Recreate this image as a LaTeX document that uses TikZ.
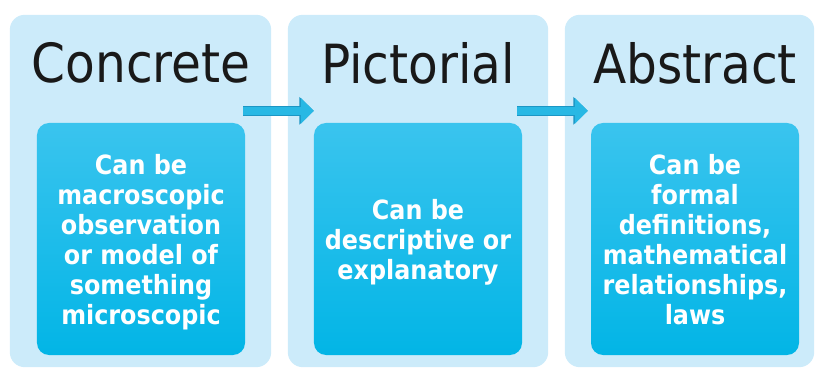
\documentclass[tikz,border=0pt]{standalone}
\usepackage{fontspec}
\setmainfont{DejaVu Sans Condensed}
\usetikzlibrary{%
  matrix,%
  calc,%
  arrows.meta,%
  backgrounds%
}
\definecolor{paneblue}{RGB}{204,235,250}
\definecolor{cardtop}{RGB}{58,196,238}
\definecolor{cardbot}{RGB}{2,181,230}
\definecolor{flowblue}{RGB}{40,184,228}
\definecolor{flowedge}{RGB}{28,150,196}
\newcommand{\cardlines}[1]{\begin{tabular}{@{}c@{}}\noalign{\vskip 9pt}#1\end{tabular}}

\begin{document}
\begin{tikzpicture}[x=1pt,y=1pt,
  title/.style={inner sep=0pt,text=black!90,font=\fontsize{54}{60}\selectfont},
  card/.style={rounded corners=12pt,top color=cardtop,bottom color=cardbot,
    minimum width=208pt,minimum height=232pt,inner sep=0pt,
    text=white,font=\bfseries\fontsize{26.5}{30}\selectfont},
  panel/.style={fill=paneblue,rounded corners=15pt},
  flow/.style={draw=flowblue,line width=8.5pt,-{Triangle[length=13pt,width=25pt]},
    preaction={draw=flowedge,line width=10pt,-{Triangle[length=14.5pt,width=27pt]}}}]
\useasboundingbox (0,0) rectangle (816,372);

\matrix[matrix of nodes,column sep={277pt,between origins},row sep={176pt,between origins},nodes={anchor=center},matrix anchor=b1.center] (s) at (141,133)
{
|[title,name=t1]| Concrete &|[title,name=t2]| Pictorial &|[title,name=t3]| Abstract \\
%
|[card,name=b1]| \cardlines{Can be\\macroscopic\\observation\\or model of\\something\\microscopic}
&|[card,name=b2]| \cardlines{Can be\\descriptive or\\explanatory}
&|[card,name=b3]| \cardlines{Can be\\formal\\definitions,\\mathematical\\relationships,\\laws} \\
%
};
\begin{scope}[on background layer]
\path[panel] ($(b1.north west)+(-27,108)$) rectangle ($(b1.south east)+(26,-12)$);
\path[panel] ($(b2.north west)+(-26,108)$) rectangle ($(b2.south east)+(26,-12)$);
\path[panel] ($(b3.north west)+(-26,108)$) rectangle ($(b3.south east)+(15,-12)$);
\end{scope}
\draw[flow] ($(b1.north east)+(-2,12)$) -- ($(b2.north west)+(0,12)$);
\draw[flow] ($(b2.north east)+(-5,12)$) -- ($(b3.north west)+(-3,12)$);
\end{tikzpicture}
\end{document}
